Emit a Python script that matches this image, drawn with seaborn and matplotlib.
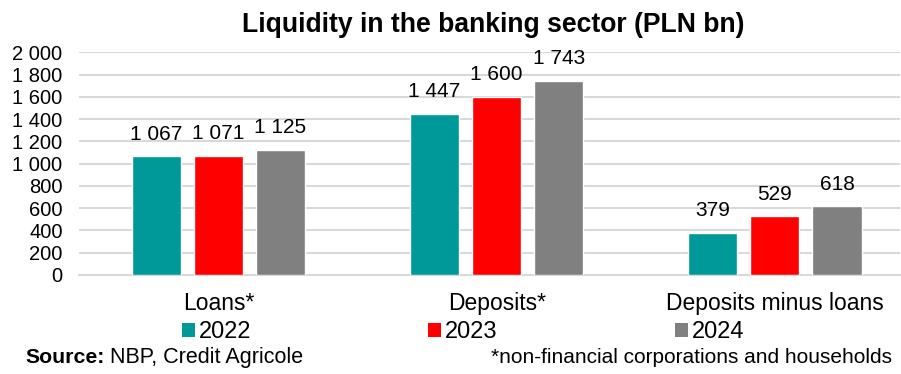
import matplotlib
matplotlib.use("Agg")
import matplotlib.pyplot as plt
import seaborn as sns
import pandas as pd
from matplotlib.patches import Patch
from matplotlib.ticker import FuncFormatter

categories = ["Loans*", "Deposits*", "Deposits minus loans"]
years = ["2022", "2023", "2024"]
values_2022 = [1067, 1447, 379]
values_2023 = [1071, 1600, 529]
values_2024 = [1125, 1743, 618]
colors = ["#009999", "#FF0000", "#808080"]

rows = []
for yr, vals in zip(years, [values_2022, values_2023, values_2024]):
    for c, v in zip(categories, vals):
        rows.append({"category": c, "year": yr, "value": v})
df = pd.DataFrame(rows)

sns.set_theme(style="white")
plt.rcParams["font.family"] = ["Liberation Sans", "DejaVu Sans"]
plt.rcParams["text.color"] = "#000000"

fig = plt.figure(figsize=(9.01, 3.74), dpi=100)
ax = fig.add_axes([0.088, 0.265, 0.911, 0.595])

sns.barplot(data=df, x="category", y="value", hue="year", order=categories,
            hue_order=years, palette=colors, width=0.67, gap=0.21,
            saturation=1, ax=ax, legend=False, zorder=3)

def fmt(v, pos=None):
    return f"{int(round(v)):,}".replace(",", " ")

for cont in ax.containers:
    labels = [fmt(b.get_height()) for b in cont]
    ax.bar_label(cont, labels=labels, padding=9, fontsize=15, color="#000000")

ax.set_ylim(0, 2000)
ax.set_yticks(range(0, 2001, 200))
ax.yaxis.set_major_formatter(FuncFormatter(fmt))
ax.set_xlim(-0.5, 2.45)
ax.grid(axis="y", color="#d9d9d9", linewidth=1.5, zorder=0)
ax.set_axisbelow(True)
for s in ["left", "right", "top"]:
    ax.spines[s].set_visible(False)
ax.spines["bottom"].set_color("#d9d9d9")
ax.spines["bottom"].set_linewidth(1.5)
ax.tick_params(axis="y", labelsize=14.5, length=0, pad=12, labelcolor="#000000")
ax.tick_params(axis="x", labelsize=16.5, length=0, pad=12, labelcolor="#000000")
ax.set_xlabel("")
ax.set_ylabel("")

fig.text(0.548, 0.914, "Liquidity in the banking sector (PLN bn)", fontsize=19.1,
         fontweight="bold", ha="center", va="baseline", color="#000000")

handles = [Patch(facecolor=c, edgecolor="none") for c in colors]
leg = fig.legend(handles, years, loc="center", bbox_to_anchor=(0.514, 0.112), ncol=3,
                 frameon=False, fontsize=17, handlelength=0.55, handleheight=0.55,
                 handletextpad=0.17, columnspacing=7.5, borderpad=0.0)
for t in leg.get_texts():
    t.set_color("#000000")

fig.text(0.028, 0.043, "Source:", fontsize=15.3, fontweight="bold", ha="left",
         va="center", color="#000000")
fig.text(0.122, 0.043, "NBP, Credit Agricole", fontsize=15.5, ha="left",
         va="center", color="#000000")
fig.text(0.990, 0.043, "*non-financial corporations and households", fontsize=15,
         ha="right", va="center", color="#000000")

fig.savefig("out.png", dpi=100)
